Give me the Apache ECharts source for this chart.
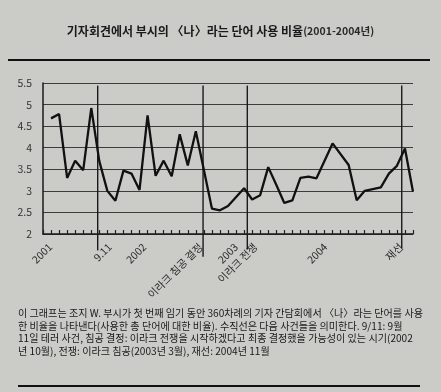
<!DOCTYPE html>
<html>
<head>
<meta charset="utf-8">
<script src="https://cdn.jsdelivr.net/npm/echarts@6/dist/echarts.min.js"></script>
<style>
html,body{margin:0;padding:0;background:#cdcdc9;}
#c{width:441px;height:392px;}
</style>
</head>
<body>
<div id="c"></div>
<script>
// ---- data ----
// one value per period along the ordinal axis; null = not read (straight segment)
const values = [null, 4.68, 4.78, 3.30, 3.70, 3.48, 4.92, 3.69, 3.00, 2.77, 3.47, 3.40, 3.02, 4.75, 3.35, 3.70,
  3.34, 4.31, 3.59, 4.38, null, 2.59, 2.55, 2.65, null, 3.06, 2.80, 2.90, 3.55, 3.14, 2.72, 2.78, 3.30, 3.33,
  3.29, null, 4.10, null, 3.60, 2.78, 3.00, null, 3.08, 3.40, 3.58, 3.98, 2.98];
const tickLabels = ['2001', '9.11', '2002', '이라크 침공 결정', '2003', '이라크 전쟁', '2004', '재선'];
const tickLabelPos = [0.9, 8.3, 12.6, 19.6, 24.0, 26.4, 35.1, 44.5];
const eventNames = ['9.11', '이라크 침공 결정', '이라크 전쟁', '재선'];
const eventPos = [6.8, 19.9, 25.4, 44.6];
const eventBottom = [1.62, 1.47, 1.64, 1.66];
const eventTop = 5.44;

const titleMain = '기자회견에서 부시의 〈나〉라는 단어 사용 비율';
const titleSub = '(2001-2004년)';
const captionLines = [
  '이 그래프는 조지 W. 부시가 첫 번째 임기 동안 360차례의 기자 간담회에서 〈나〉라는 단어를 사용',
  '한 비율을 나타낸다(사용한 총 단어에 대한 비율). 수직선은 다음 사건들을 의미한다. 9/11: 9월',
  '11일 테러 사건, 침공 결정: 이라크 전쟁을 시작하겠다고 최종 결정했을 가능성이 있는 시기(2002',
  '년 10월), 전쟁: 이라크 침공(2003년 3월), 재선: 2004년 11월'
];

const FONT = '"Noto Sans CJK KR", "Noto Sans", sans-serif';
const lastIndex = values.length - 1;
const lineData = values.map((v, i) => [i, v]).filter(p => p[1] !== null);
const tickValues = values.map((v, i) => i);

const eventSeries = eventPos.map((x, k) => ({
  type: 'line',
  name: eventNames[k],
  data: [[x, eventTop], [x, eventBottom[k]]],
  symbol: 'none',
  clip: false,
  silent: true,
  lineStyle: { color: '#1a1a1a', width: 1.4 },
  z: 3
}));

const chart = echarts.init(document.getElementById('c'), null, { renderer: 'canvas' });
chart.setOption({
  backgroundColor: '#cbccc8',
  animation: false,
  textStyle: { fontFamily: FONT },
  grid: { left: 43, right: 28, top: 83, bottom: 158 },
  xAxis: {
    type: 'value',
    min: 0,
    max: lastIndex,
    interval: 1,
    axisLine: { show: true, lineStyle: { color: '#1a1a1a', width: 1.5 } },
    axisTick: { show: true, inside: true, length: 4, customValues: tickValues, lineStyle: { color: '#222', width: 1.2 } },
    splitLine: { show: false },
    axisLabel: {
      customValues: tickLabelPos,
      rotate: 45,
      margin: 11,
      fontSize: 10.5,
      color: '#2a2a2a',
      fontFamily: FONT,
      formatter: function (v) {
        for (let i = 0; i < tickLabelPos.length; i++) {
          if (Math.abs(tickLabelPos[i] - v) < 1e-6) return tickLabels[i];
        }
        return '';
      }
    }
  },
  yAxis: {
    type: 'value',
    min: 2,
    max: 5.5,
    interval: 0.5,
    axisLine: { show: true, lineStyle: { color: '#1a1a1a', width: 1.5 } },
    axisTick: { show: false },
    splitLine: { show: true, lineStyle: { color: '#3c3c3c', width: 1.2 } },
    axisLabel: { margin: 11, fontSize: 10.5, color: '#333', fontFamily: FONT }
  },
  series: [{
    type: 'line',
    data: lineData,
    symbol: 'none',
    connectNulls: true,
    lineStyle: { color: '#111', width: 2.3 },
    z: 4
  }].concat(eventSeries),
  graphic: [
    {
      type: 'text', left: 'center', top: 25,
      style: {
        text: '{a|' + titleMain + '}{b|' + titleSub + '}',
        rich: {
          a: { fontSize: 12, fontWeight: 'bold', fill: '#1a1a1a', fontFamily: FONT },
          b: { fontSize: 10.5, fontWeight: 'bold', fill: '#2a2a2a', fontFamily: FONT }
        }
      }
    },
    { type: 'rect', shape: { x: 8, y: 59, width: 422, height: 2 }, style: { fill: '#111' } },
    { type: 'rect', shape: { x: 18, y: 385, width: 402, height: 2 }, style: { fill: '#111' } }
  ].concat(captionLines.map((t, i) => ({
    type: 'text', left: 18, top: 308 + i * 12.7,
    style: { text: t, fontSize: 10.1, fill: '#1a1a1a', fontFamily: FONT }
  })))
});
</script>
</body>
</html>
